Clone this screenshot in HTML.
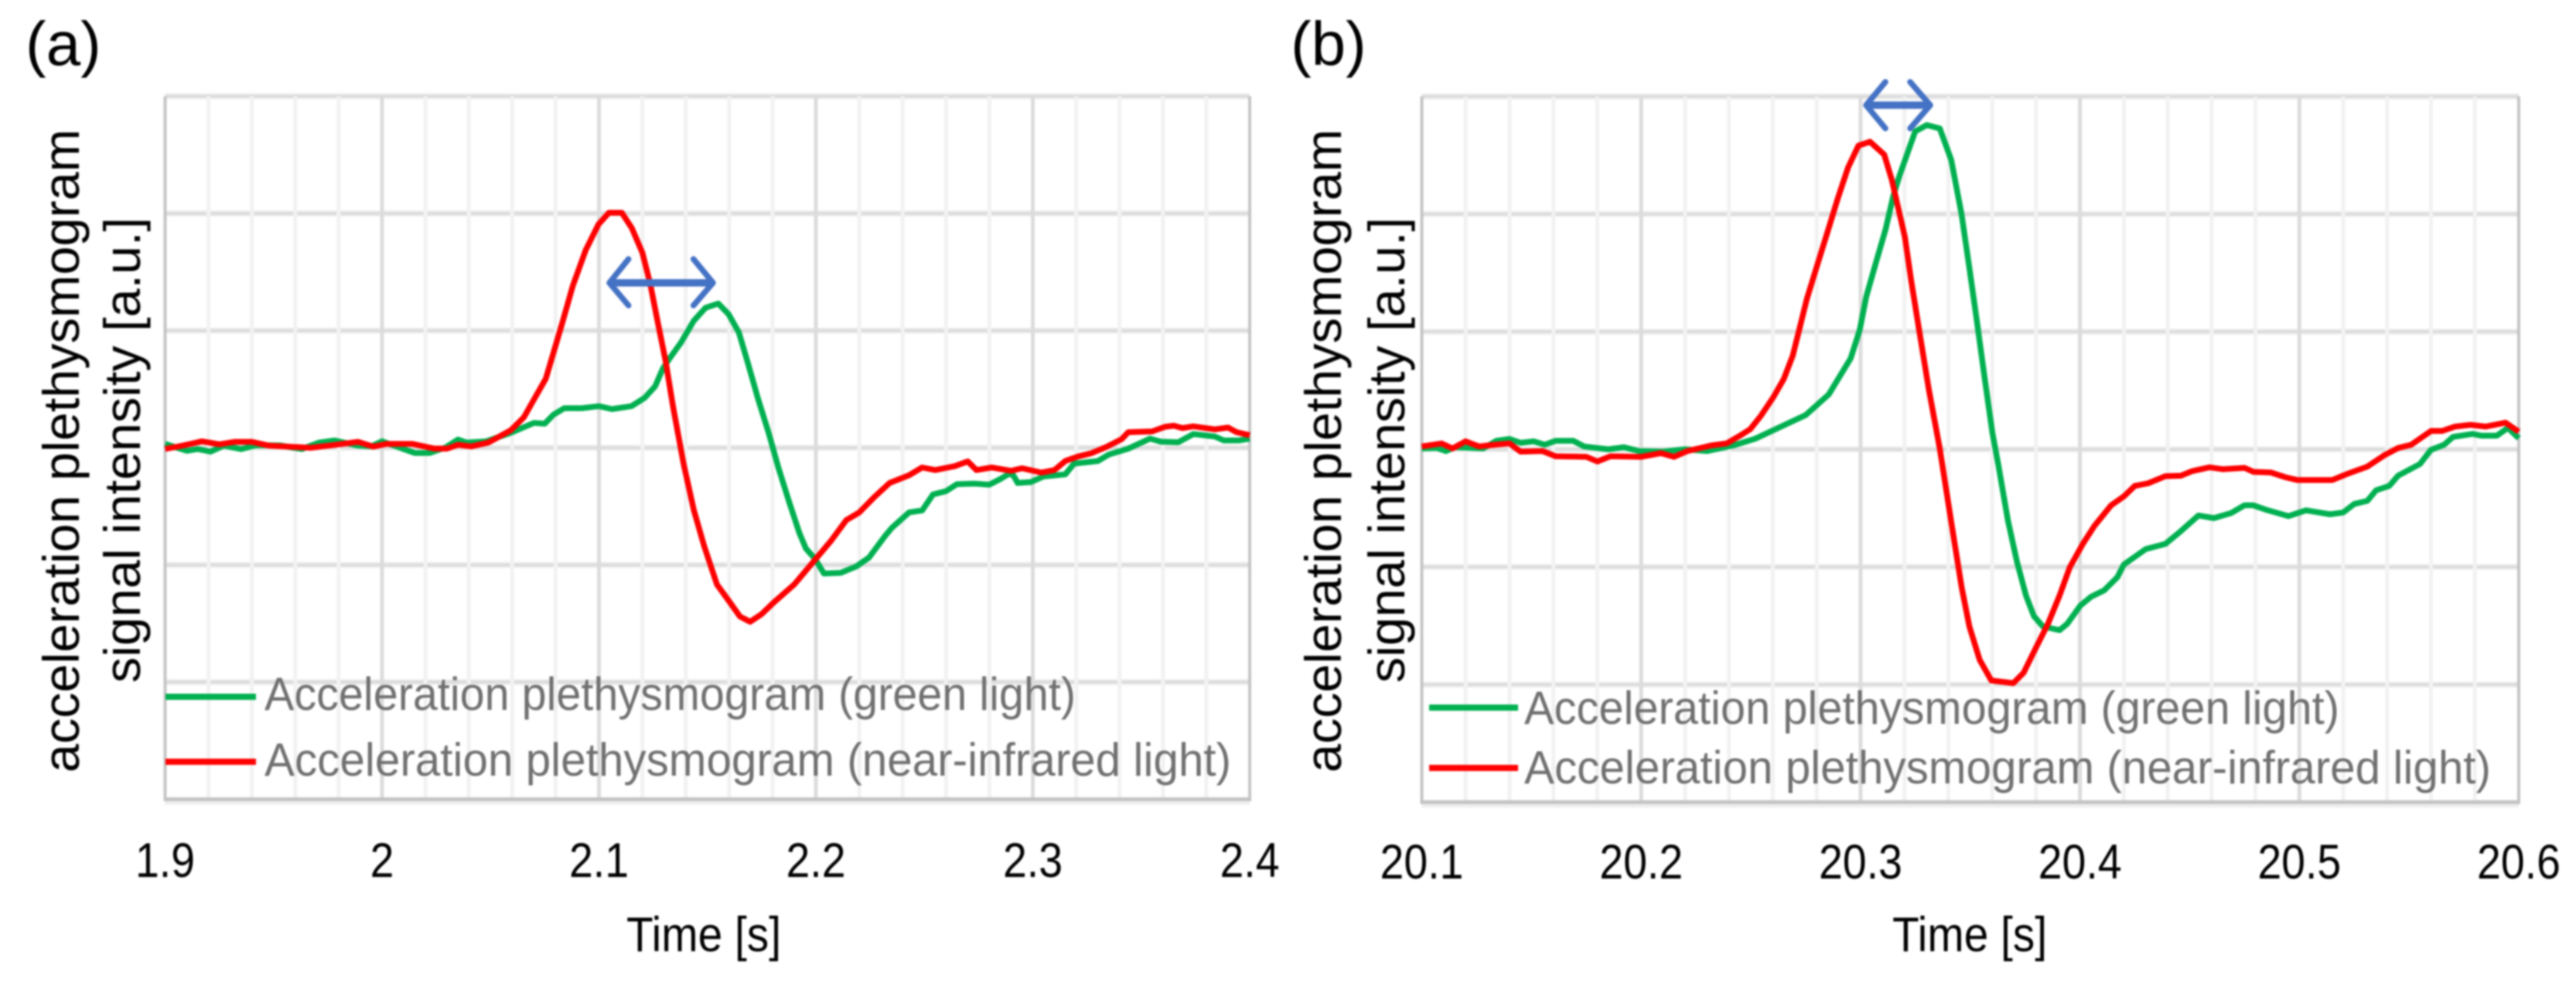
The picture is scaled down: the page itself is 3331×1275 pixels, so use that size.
<!DOCTYPE html>
<html lang="en">
<head>
<meta charset="utf-8">
<title>Acceleration plethysmogram comparison</title>
<style>
  html, body { margin: 0; padding: 0; background: #ffffff; }
  #figure { display: block; width: 3331px; height: 1275px; filter: blur(1.1px); }
  text { font-family: "Liberation Sans", Arial, sans-serif; }
  .legend-text { fill: #707070; font-size: 60px; }
  .axis-title { fill: #000000; font-size: 66px; }
  .panel-label { fill: #000000; font-size: 80px; }
  .tick { fill: #000000; font-size: 63px; }
</style>
</head>
<body>
<svg id="figure" xmlns="http://www.w3.org/2000/svg" width="3331" height="1275" viewBox="0 0 3331 1275">
  <rect width="3331" height="1275" fill="#ffffff"/>
  <g id="panel-a"></g>
  <g id="panel-b"></g>

  <text class="panel-label" x="33" y="84">(a)</text>
  <text class="panel-label" x="1669" y="84">(b)</text>

  <text class="axis-title" transform="translate(102,583) rotate(-90)" text-anchor="middle" textLength="832" lengthAdjust="spacingAndGlyphs">acceleration plethysmogram</text>
  <text class="axis-title" transform="translate(181,582) rotate(-90)" text-anchor="middle" textLength="602" lengthAdjust="spacingAndGlyphs">signal intensity [a.u.]</text>
  <text class="axis-title" transform="translate(1734,583) rotate(-90)" text-anchor="middle" textLength="832" lengthAdjust="spacingAndGlyphs">acceleration plethysmogram</text>
  <text class="axis-title" transform="translate(1816,582) rotate(-90)" text-anchor="middle" textLength="602" lengthAdjust="spacingAndGlyphs">signal intensity [a.u.]</text>

  <text class="tick" x="810" y="1230" textLength="200" lengthAdjust="spacingAndGlyphs">Time [s]</text>
  <text class="tick" x="2447" y="1230" textLength="200" lengthAdjust="spacingAndGlyphs">Time [s]</text>

  <g>
    <line x1="214" x2="331" y1="901" y2="901" stroke="#00b050" stroke-width="8"/>
    <text class="legend-text" x="342" y="918" textLength="1049" lengthAdjust="spacingAndGlyphs">Acceleration plethysmogram (green light)</text>
    <line x1="214" x2="331" y1="985" y2="985" stroke="#ff0000" stroke-width="8"/>
    <text class="legend-text" x="342" y="1003" textLength="1250" lengthAdjust="spacingAndGlyphs">Acceleration plethysmogram (near-infrared light)</text>
  </g>
  <g>
    <line x1="1848" x2="1963" y1="915" y2="915" stroke="#00b050" stroke-width="8"/>
    <text class="legend-text" x="1971" y="936" textLength="1054" lengthAdjust="spacingAndGlyphs">Acceleration plethysmogram (green light)</text>
    <line x1="1848" x2="1963" y1="993" y2="993" stroke="#ff0000" stroke-width="8"/>
    <text class="legend-text" x="1971" y="1013" textLength="1250" lengthAdjust="spacingAndGlyphs">Acceleration plethysmogram (near-infrared light)</text>
  </g>

  <g fill="none" stroke="#4472c4" stroke-linecap="round" stroke-linejoin="round">
    <path d="M792 365.7H918" stroke-width="9.5"/>
    <path d="M812.7 335L788 365.7L812.7 395M896.7 335L922 365.7L896.7 395" stroke-width="7.5"/>
  </g>
  <g fill="none" stroke="#4472c4" stroke-linecap="round" stroke-linejoin="round">
    <path d="M2417 136H2492" stroke-width="9.5"/>
    <path d="M2438 106L2413 136L2438 166M2470 106L2496 136L2470 166" stroke-width="7.5"/>
  </g>
</svg>

<script>
// Panel (a) axis labels
const aTickLabels = ["1.9", "2", "2.1", "2.2", "2.3", "2.4"];
const aTickValues = [1.9, 2.0, 2.1, 2.2, 2.3, 2.4];
// Panel (a) near-infrared series
const aRedTime = [1.900,1.908,1.917,1.925,1.932,1.940,1.948,1.967,1.977,1.989,1.996,2.002,2.014,2.024,2.030,2.035,2.041,2.049,2.0594,2.0654,2.0701,2.0755,2.0790,2.0832,2.0879,2.0939,2.0998,2.1046,2.1105,2.1152,2.1200,2.1236,2.1271,2.1307,2.1342,2.1390,2.1437,2.1485,2.1544,2.1604,2.165,2.1697,2.175,2.1806,2.190,2.200,2.207,2.214,2.220,2.227,2.234,2.243,2.249,2.255,2.264,2.270,2.274,2.281,2.290,2.295,2.304,2.310,2.315,2.321,2.327,2.334,2.341,2.344,2.355,2.361,2.365,2.369,2.374,2.384,2.390,2.394,2.400];
const aRedValue = [-0.01,0.018,0.055,0.029,0.05,0.05,0.018,0,0.022,0.05,0.009,0.033,0.033,-0.007,-0.007,0.026,0.011,0.044,0.15,0.26,0.414,0.59,0.809,1.073,1.38,1.688,1.907,2.006,2.006,1.874,1.666,1.402,1.073,0.743,0.348,-0.135,-0.53,-0.838,-1.167,-1.32,-1.44,-1.485,-1.42,-1.32,-1.167,-0.948,-0.794,-0.618,-0.552,-0.42,-0.30,-0.234,-0.168,-0.19,-0.157,-0.117,-0.19,-0.168,-0.197,-0.175,-0.212,-0.19,-0.113,-0.074,-0.047,0.008,0.074,0.133,0.139,0.179,0.188,0.168,0.183,0.157,0.172,0.133,0.107];
// Panel (a) green series
const aGreenTime = [1.900,1.910,1.915,1.921,1.927,1.935,1.942,1.953,1.963,1.971,1.978,1.989,1.995,2.000,2.005,2.015,2.022,2.029,2.035,2.039,2.048,2.059,2.070,2.075,2.079,2.084,2.092,2.100,2.106,2.115,2.121,2.1259,2.1295,2.1331,2.1378,2.1437,2.1491,2.1550,2.1598,2.1645,2.1687,2.1734,2.1782,2.1829,2.1877,2.1924,2.1954,2.1996,2.2037,2.2114,2.2186,2.2245,2.232,2.235,2.243,2.249,2.254,2.260,2.265,2.273,2.280,2.285,2.289,2.291,2.293,2.299,2.305,2.315,2.319,2.330,2.335,2.344,2.354,2.359,2.367,2.374,2.384,2.388,2.395,2.400];
const aGreenValue = [0.033,-0.026,-0.011,-0.033,0.018,-0.011,0.022,0.02,-0.011,0.044,0.062,0.018,0.011,0.055,0.022,-0.044,-0.044,0,0.07,0.044,0.055,0.125,0.212,0.205,0.282,0.337,0.337,0.355,0.33,0.355,0.425,0.524,0.677,0.776,0.897,1.084,1.194,1.231,1.139,0.985,0.721,0.414,0.128,-0.18,-0.464,-0.728,-0.86,-0.948,-1.073,-1.068,-1.013,-0.937,-0.75,-0.684,-0.552,-0.535,-0.399,-0.37,-0.311,-0.306,-0.315,-0.267,-0.223,-0.234,-0.30,-0.293,-0.245,-0.227,-0.135,-0.113,-0.058,-0.008,0.078,0.052,0.047,0.117,0.096,0.063,0.063,0.078];

// Panel (b) axis labels
const bTickLabels = ["20.1", "20.2", "20.3", "20.4", "20.5", "20.6"];
const bTickValues = [20.1, 20.2, 20.3, 20.4, 20.5, 20.6];
// Panel (b) near-infrared series
const bRedTime = [20.100,20.109,20.114,20.120,20.126,20.133,20.140,20.145,20.155,20.161,20.175,20.180,20.186,20.200,20.209,20.215,20.221,20.232,20.239,20.245,20.2497,20.2544,20.2603,20.2650,20.2691,20.2720,20.2755,20.2802,20.2849,20.2896,20.2943,20.2990,20.3043,20.3108,20.3143,20.3167,20.3202,20.3231,20.3267,20.3311,20.3361,20.3414,20.3461,20.3496,20.3543,20.3596,20.3696,20.3743,20.3801,20.3854,20.3907,20.3954,20.4013,20.4066,20.4142,20.4201,20.425,20.431,20.439,20.446,20.451,20.459,20.465,20.475,20.479,20.487,20.494,20.499,20.515,20.522,20.531,20.539,20.545,20.551,20.560,20.565,20.571,20.578,20.585,20.594,20.600];
const bRedValue = [0.024,0.05,0.007,0.068,0.024,0.039,0.05,-0.02,-0.015,-0.059,-0.064,-0.103,-0.059,-0.064,-0.033,-0.064,-0.015,0.033,0.05,0.116,0.171,0.281,0.445,0.598,0.796,1.015,1.278,1.563,1.847,2.132,2.395,2.582,2.615,2.505,2.286,2.089,1.804,1.431,1.015,0.511,0.007,-0.629,-1.177,-1.506,-1.79,-1.966,-1.988,-1.90,-1.681,-1.484,-1.243,-1.002,-0.804,-0.651,-0.476,-0.399,-0.311,-0.289,-0.228,-0.224,-0.186,-0.153,-0.169,-0.158,-0.191,-0.197,-0.239,-0.261,-0.261,-0.208,-0.147,-0.048,0.011,0.039,0.156,0.156,0.193,0.208,0.193,0.226,0.149];
// Panel (b) green series
const bGreenTime = [20.100,20.107,20.111,20.115,20.128,20.134,20.140,20.145,20.151,20.156,20.161,20.169,20.174,20.185,20.192,20.199,20.210,20.220,20.230,20.242,20.252,20.2650,20.2750,20.2855,20.2955,20.2996,20.3026,20.3073,20.3114,20.3149,20.3178,20.3249,20.3302,20.3361,20.3413,20.3460,20.3496,20.3531,20.3566,20.3601,20.3628,20.3672,20.3713,20.3754,20.3790,20.3831,20.3907,20.3942,20.4001,20.405,20.411,20.417,20.420,20.430,20.439,20.446,20.454,20.461,20.469,20.475,20.479,20.485,20.495,20.503,20.514,20.520,20.525,20.531,20.535,20.541,20.545,20.555,20.560,20.566,20.570,20.579,20.583,20.590,20.595,20.600];
const bGreenValue = [0.007,0.011,-0.015,0.018,0.007,0.072,0.088,0.055,0.068,0.039,0.072,0.072,0.024,0,0.018,-0.015,-0.02,0,-0.015,0.033,0.09,0.204,0.291,0.467,0.774,1.015,1.30,1.606,1.869,2.154,2.33,2.702,2.757,2.728,2.461,2.001,1.541,1.08,0.598,0.138,-0.135,-0.607,-0.958,-1.243,-1.418,-1.506,-1.538,-1.484,-1.33,-1.254,-1.199,-1.089,-0.98,-0.848,-0.804,-0.695,-0.563,-0.585,-0.541,-0.476,-0.476,-0.515,-0.568,-0.519,-0.552,-0.537,-0.465,-0.438,-0.348,-0.311,-0.224,-0.125,-0.004,0.039,0.105,0.131,0.116,0.116,0.182,0.094];

// Shared horizontal gridline levels (a.u.)
const yGridLevels = [3, 2, 1, 0, -1, -2, -3];

const SVG_NS = "http://www.w3.org/2000/svg";

function makeLine(parent, x1, y1, x2, y2, color, width) {
  const el = document.createElementNS(SVG_NS, "line");
  el.setAttribute("x1", x1);
  el.setAttribute("y1", y1);
  el.setAttribute("x2", x2);
  el.setAttribute("y2", y2);
  el.setAttribute("stroke", color);
  el.setAttribute("stroke-width", width);
  parent.appendChild(el);
  return el;
}

function makeSeries(parent, times, values, xScale, yScale, color) {
  const el = document.createElementNS(SVG_NS, "polyline");
  const pts = times.map(function (t, i) {
    return xScale(t).toFixed(1) + "," + yScale(values[i]).toFixed(1);
  });
  el.setAttribute("points", pts.join(" "));
  el.setAttribute("fill", "none");
  el.setAttribute("stroke", color);
  el.setAttribute("stroke-width", "7.5");
  el.setAttribute("stroke-linejoin", "round");
  parent.appendChild(el);
  return el;
}

function drawPanel(groupId, box, tickValues, tickLabels, series) {
  const group = document.getElementById(groupId);
  const t0 = tickValues[0];
  const xScale = function (t) { return box.left + (t - t0) * box.pxPerSecond; };
  const yScale = function (v) { return box.zeroY - v * box.pxPerUnit; };
  const right = xScale(tickValues[tickValues.length - 1]);
  const top = yScale(3);
  const bottom = yScale(-3);

  yGridLevels.forEach(function (level) {
    if (level === -3) return;
    const halo = makeLine(group, box.left, yScale(level), right, yScale(level), "#f0f0f0", 8);
    
    
    const grid = makeLine(group, box.left, yScale(level), right, yScale(level), "#dcdcdc", 4);
    
    
  });

  tickValues.forEach(function (tick, i) {
    if (i === tickValues.length - 1) return;
    for (let m = 1; m < 5; m++) {
      const mx = xScale(tick + m * 0.02);
      const minor = makeLine(group, mx, top, mx, bottom, "#f2f2f2", 5);
      
      
    }
  });

  tickValues.forEach(function (tick, i) {
    const x = xScale(tick);
    const isEdge = i === 0 || i === tickValues.length - 1;
    const major = makeLine(group, x, top, x, bottom, isEdge ? "#c4c4c4" : "#dcdcdc", isEdge ? 4 : 5);
    
    

    const label = document.createElementNS(SVG_NS, "text");
    label.setAttribute("class", "tick");
    label.setAttribute("text-anchor", "middle");
    label.setAttribute("transform", "translate(" + x + "," + box.tickBaseline + ") scale(0.88,1)");
    label.textContent = tickLabels[i];
    
    
    group.appendChild(label);
  });

  const baseHalo = makeLine(group, box.left, bottom + 3, right, bottom + 3, "#eeeeee", 8);
  
  
  const base = makeLine(group, box.left - 2, bottom, right + 2, bottom, "#c4c4c4", 5);
  
  

  const green = makeSeries(group, series.greenTime, series.greenValue, xScale, yScale, "#00b050");
  
  
  const red = makeSeries(group, series.redTime, series.redValue, xScale, yScale, "#ff0000");
  
  
}

drawPanel("panel-a",
  { left: 213.5, pxPerSecond: 2805, zeroY: 579, pxPerUnit: 151.5, tickBaseline: 1134 },
  aTickValues, aTickLabels,
  { redTime: aRedTime, redValue: aRedValue, greenTime: aGreenTime, greenValue: aGreenValue });

drawPanel("panel-b",
  { left: 1838.5, pxPerSecond: 2837, zeroY: 581, pxPerUnit: 152.1, tickBaseline: 1136 },
  bTickValues, bTickLabels,
  { redTime: bRedTime, redValue: bRedValue, greenTime: bGreenTime, greenValue: bGreenValue });
</script>
</body>
</html>
